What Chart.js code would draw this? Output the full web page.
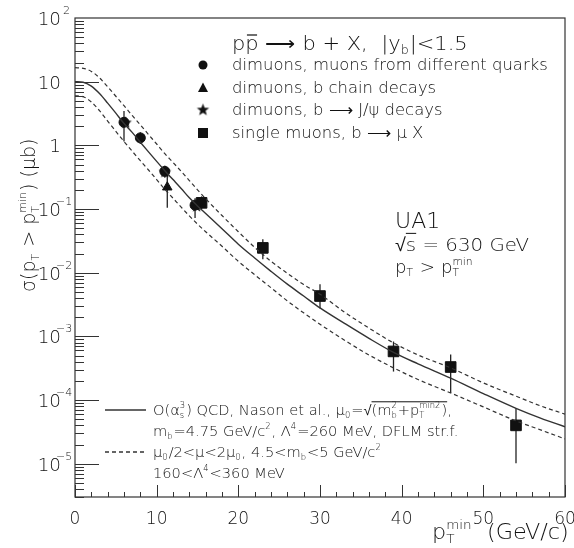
<!DOCTYPE html>
<html>
<head>
<meta charset="utf-8">
<script src="https://cdn.jsdelivr.net/npm/chart.js@4.4.1/dist/chart.umd.min.js"></script>
<style>
  html, body { margin: 0; padding: 0; background: #fff; }
  canvas { display: block; }
</style>
</head>
<body>
<canvas id="xsec" width="574" height="548"></canvas>
<script>
// pT min grid (GeV/c) for the QCD curves
const ptGrid = [0, 1, 2, 3, 4, 5, 6, 7, 8, 9, 10, 11, 12, 13, 14, 15, 16, 18, 20, 22, 24, 26, 28, 30, 33, 36, 39, 42, 46, 50, 54, 57, 60];
// sigma(pT > pTmin) in microbarn
const qcdCentral = [10, 9.8, 8.5, 6.5, 4.6, 3.2, 2.2, 1.6, 1.12, 0.79, 0.56, 0.40, 0.29, 0.21, 0.15, 0.112, 0.085, 0.049, 0.028, 0.017, 0.0105, 0.0066, 0.0043, 0.0028, 0.0016, 9.3e-4, 5.6e-4, 3.7e-4, 2.2e-4, 1.26e-4, 7.4e-5, 5.2e-5, 3.8e-5];
const qcdUpper = [16.6, 16.2, 14.5, 11.5, 8.3, 5.9, 4.2, 2.95, 2.1, 1.48, 1.05, 0.74, 0.54, 0.39, 0.28, 0.20, 0.145, 0.079, 0.044, 0.025, 0.0151, 0.0098, 0.0065, 0.0046, 0.0024, 0.00135, 7.9e-4, 5.1e-4, 3.2e-4, 1.86e-4, 1.15e-4, 8.1e-5, 6.0e-5];
const qcdLower = [6.0, 5.8, 4.8, 3.5, 2.4, 1.66, 1.15, 0.81, 0.575, 0.41, 0.29, 0.204, 0.148, 0.107, 0.078, 0.058, 0.044, 0.026, 0.0151, 0.0093, 0.0058, 0.0036, 0.00234, 0.00155, 8.7e-4, 5.1e-4, 3.2e-4, 2.1e-4, 1.29e-4, 7.8e-5, 4.7e-5, 3.4e-5, 2.45e-5];

// dimuons, muons from different quarks
const diffPt = [6, 8, 11, 14.7];
const diffSigma = [2.3, 1.31, 0.39, 0.115];
const diffHi = [3.47, 1.6, 0.48, 0.148];
const diffLo = [1.15, 1.05, 0.31, 0.072];
// dimuons, b chain decays
const chainPt = [11.3];
const chainSigma = [0.22];
const chainHi = [0.33];
const chainLo = [0.105];
// dimuons, b -> J/psi decays
const jpsiPt = [6.2, 11, 14.9];
const jpsiSigma = [2.25, 0.38, 0.11];
// single muons, b -> mu X
const singlePt = [15.5, 23, 30, 39, 46, 54];
const singleSigma = [0.125, 0.0245, 0.0043, 5.8e-4, 3.3e-4, 4.0e-5];
const singleHi = [0.158, 0.0335, 0.0066, 8.3e-4, 5.2e-4, 7.4e-5];
const singleLo = [0.10, 0.0162, 0.00275, 2.8e-4, 1.29e-4, 1.02e-5];

const xTicks = [0, 10, 20, 30, 40, 50, 60];
const yDecades = [2, 1, 0, -1, -2, -3, -4, -5];
const yTickLabels = [['10', '2'], ['10', ''], ['1', ''], ['10', '\u22121'], ['10', '\u22122'], ['10', '\u22123'], ['10', '\u22124'], ['10', '\u22125']];

const FONT = '"DejaVu Sans", sans-serif';
const WEIGHT = '200 ';
const INK = '#121212';

function pts(xs, ys) {
  return xs.map((x, i) => ({ x: x, y: ys[i] }));
}

// filled five point star used as a point style
function makeStar(r) {
  const c = document.createElement('canvas');
  c.width = c.height = Math.ceil(r * 2 + 2);
  const g = c.getContext('2d');
  const cx = c.width / 2, cy = c.height / 2;
  g.beginPath();
  for (let i = 0; i < 10; i++) {
    const a = -Math.PI / 2 + i * Math.PI / 5;
    const rr = i % 2 === 0 ? r : r * 0.42;
    g.lineTo(cx + rr * Math.cos(a), cy + rr * Math.sin(a));
  }
  g.closePath();
  g.fillStyle = '#111';
  g.fill();
  return c;
}
const starImg = makeStar(6.5);

// draw a string stretched sideways by k, returns advance
function wide(ctx, s, x, y, k) {
  const w = ctx.measureText(s).width * k;
  ctx.save();
  ctx.translate(x, y);
  ctx.scale(k, 1);
  ctx.fillText(s, 0, 0);
  ctx.restore();
  return w;
}

// text with sub/superscripts; parts are strings or {sub, sup, bar, ovl}
function rich(ctx, x, y, parts, size, k) {
  k = k || 1;
  const big = WEIGHT + size + 'px ' + FONT;
  const small = WEIGHT + Math.round(size * 0.6) + 'px ' + FONT;
  let cx = x, ovl = null;
  for (const p of parts) {
    if (typeof p === 'string') {
      ctx.font = big;
      cx += wide(ctx, p, cx, y, k);
      continue;
    }
    if (p.ovl === 'start') { ovl = cx; continue; }
    if (p.ovl === 'end') {
      ctx.fillRect(ovl, y - size * 0.98, cx - ovl, 1);
      continue;
    }
    if (p.bar) {
      ctx.font = big;
      const w = wide(ctx, p.bar, cx, y, k);
      ctx.fillRect(cx + w * 0.12, y - size * 0.78, w * 0.76, 1.2);
      cx += w;
      continue;
    }
    ctx.font = small;
    let w = 0;
    if (p.sub) w = wide(ctx, p.sub, cx, y + size * 0.2, k);
    if (p.sup) w = Math.max(w, wide(ctx, p.sup, cx, y - size * 0.48, k));
    cx += w + 1;
  }
  return cx - x;
}

// vertical error bars, drawn under the markers
const errorBars = {
  id: 'errorBars',
  beforeDatasetsDraw(chart) {
    const ctx = chart.ctx, ys = chart.scales.y;
    ctx.save();
    ctx.strokeStyle = '#222';
    ctx.lineWidth = 1.3;
    chart.data.datasets.forEach((ds, di) => {
      if (!ds.errHi) return;
      const meta = chart.getDatasetMeta(di);
      meta.data.forEach((el, i) => {
        ctx.beginPath();
        ctx.moveTo(el.x, ys.getPixelForValue(ds.errHi[i]));
        ctx.lineTo(el.x, ys.getPixelForValue(ds.errLo[i]));
        ctx.stroke();
      });
    });
    ctx.restore();
  }
};

// frame, inward ticks, tick labels, axis titles and the key
const decorations = {
  id: 'decorations',
  afterDraw(chart) {
    const ctx = chart.ctx, a = chart.chartArea;
    const xs = chart.scales.x, ys = chart.scales.y;
    ctx.save();
    ctx.strokeStyle = '#333';
    ctx.fillStyle = INK;
    ctx.lineWidth = 1.2;
    ctx.strokeRect(a.left, a.top, a.right - a.left, a.bottom - a.top);

    ctx.beginPath();
    for (let v = 0; v <= 60; v += 2) {
      const px = Math.round(xs.getPixelForValue(v)) + 0.5;
      const len = v % 10 === 0 ? 12 : 5;
      ctx.moveTo(px, a.bottom);
      ctx.lineTo(px, a.bottom - len);
    }
    for (let d = -6; d <= 1; d++) {
      for (let m = 1; m <= 9; m++) {
        const v = m * Math.pow(10, d);
        if (v < ys.min || v > ys.max) continue;
        const py = Math.round(ys.getPixelForValue(v)) + 0.5;
        const len = m === 1 ? 24 : 9;
        ctx.moveTo(a.left, py);
        ctx.lineTo(a.left + len, py);
      }
    }
    ctx.lineWidth = 1;
    ctx.stroke();

    ctx.textBaseline = 'alphabetic';
    ctx.font = WEIGHT + '17px ' + FONT;
    ctx.textAlign = 'center';
    xTicks.forEach(v => ctx.fillText(String(v), xs.getPixelForValue(v), 524));
    ctx.textAlign = 'left';
    yDecades.forEach((e, i) => {
      const py = ys.getPixelForValue(Math.pow(10, e));
      const base = yTickLabels[i][0], exp = yTickLabels[i][1];
      ctx.font = WEIGHT + '17px ' + FONT;
      const w = ctx.measureText(base).width * 1.08;
      wide(ctx, base, 61 - w, py + 7, 1.08);
      if (exp) {
        ctx.font = WEIGHT + '11px ' + FONT;
        ctx.fillText(exp, exp.length > 1 ? 56 : 63, py - 4);
      }
    });

    // axis titles
    rich(ctx, 432, 539, ['p', { sub: 'T', sup: 'min' }, '  (GeV/c)'], 21.5, 1.04);
    ctx.save();
    ctx.translate(35, 292);
    ctx.rotate(-Math.PI / 2);
    rich(ctx, 0, 0, ['\u03c3(p', { sub: 'T' }, ' > p', { sub: 'T', sup: 'min' }, ') (\u03bcb)'], 19);
    ctx.restore();

    // process label and marker key
    rich(ctx, 232, 50, ['p', { bar: 'p' }, ' \u27f6 b + X,  |y', { sub: 'b' }, '|<1.5'], 20, 1.05);
    const keyY = [65, 88, 110, 133];
    ctx.fillStyle = '#111';
    ctx.beginPath(); ctx.arc(203, keyY[0], 4.5, 0, Math.PI * 2); ctx.fill();
    ctx.beginPath(); ctx.moveTo(203, keyY[1] - 5.5); ctx.lineTo(208, keyY[1] + 4); ctx.lineTo(198, keyY[1] + 4); ctx.closePath(); ctx.fill();
    ctx.drawImage(starImg, 203 - starImg.width / 2, keyY[2] - starImg.height / 2);
    ctx.fillRect(198, keyY[3] - 5, 10, 10);
    ctx.fillStyle = INK;
    rich(ctx, 232, keyY[0] + 5, ['dimuons, muons from different quarks'], 15.5, 1.06);
    rich(ctx, 232, keyY[1] + 5, ['dimuons, b chain decays'], 15.5, 1.06);
    rich(ctx, 232, keyY[2] + 5, ['dimuons, b \u27f6 J/\u03c8 decays'], 15.5, 1.06);
    rich(ctx, 232, keyY[3] + 5, ['single muons, b \u27f6 \u03bc X'], 15.5, 1.06);

    rich(ctx, 395, 228, ['UA1'], 21, 1.05);
    rich(ctx, 395, 251, ['\u221a', { ovl: 'start' }, 's', { ovl: 'end' }, ' = 630 GeV'], 18.5, 1.07);
    rich(ctx, 395, 273, ['p', { sub: 'T' }, ' > p', { sub: 'T', sup: 'min' }], 17, 1.07);

    // curve key
    ctx.strokeStyle = '#333';
    ctx.lineWidth = 1.3;
    ctx.beginPath(); ctx.moveTo(105, 410); ctx.lineTo(146, 410); ctx.stroke();
    ctx.setLineDash([4, 3]);
    ctx.beginPath(); ctx.moveTo(105, 452); ctx.lineTo(146, 452); ctx.stroke();
    ctx.setLineDash([]);
    ctx.fillStyle = INK;
    const fs = 14, fk = 1.045;
    rich(ctx, 153, 415, ['O(\u03b1', { sub: 's', sup: '3' }, ') QCD, Nason et al., \u03bc', { sub: '0' }, '=\u221a', { ovl: 'start' }, '(m', { sub: 'b', sup: '2' }, '+p', { sub: 'T', sup: 'min2' }, ')', { ovl: 'end' }, ','], fs, fk);
    rich(ctx, 153, 436, ['m', { sub: 'b' }, '=4.75 GeV/c', { sup: '2' }, ', \u039b', { sup: '4' }, '=260 MeV, DFLM str.f.'], fs, fk);
    rich(ctx, 153, 457, ['\u03bc', { sub: '0' }, '/2<\u03bc<2\u03bc', { sub: '0' }, ', 4.5<m', { sub: 'b' }, '<5 GeV/c', { sup: '2' }], fs, fk);
    rich(ctx, 153, 478, ['160<\u039b', { sup: '4' }, '<360 MeV'], fs, fk);
    ctx.restore();
  }
};

new Chart(document.getElementById('xsec'), {
  type: 'scatter',
  data: {
    datasets: [
      { data: pts(ptGrid, qcdCentral), showLine: true, borderColor: '#333', borderWidth: 1.4, pointRadius: 0, cubicInterpolationMode: 'monotone' },
      { data: pts(ptGrid, qcdUpper), showLine: true, borderColor: '#333', borderWidth: 1.2, borderDash: [4, 3], pointRadius: 0, cubicInterpolationMode: 'monotone' },
      { data: pts(ptGrid, qcdLower), showLine: true, borderColor: '#333', borderWidth: 1.2, borderDash: [4, 3], pointRadius: 0, cubicInterpolationMode: 'monotone' },
      { data: pts(diffPt, diffSigma), errHi: diffHi, errLo: diffLo, pointStyle: 'circle', pointRadius: 5, backgroundColor: '#111', borderColor: '#111' },
      { data: pts(chainPt, chainSigma), errHi: chainHi, errLo: chainLo, pointStyle: 'triangle', pointRadius: 5.5, backgroundColor: '#111', borderColor: '#111' },
      { data: pts(jpsiPt, jpsiSigma), pointStyle: starImg, backgroundColor: '#111', borderColor: '#111' },
      { data: pts(singlePt, singleSigma), errHi: singleHi, errLo: singleLo, pointStyle: 'rect', pointRadius: 7.5, backgroundColor: '#111', borderColor: '#111' }
    ]
  },
  options: {
    responsive: false,
    animation: false,
    events: [],
    layout: { padding: { left: 75, top: 18, right: 9, bottom: 51 } },
    scales: {
      x: { type: 'linear', min: 0, max: 60, display: false },
      y: { type: 'logarithmic', min: 3e-6, max: 100, display: false }
    },
    plugins: { legend: { display: false }, tooltip: { enabled: false } }
  },
  plugins: [errorBars, decorations]
});
</script>
</body>
</html>
